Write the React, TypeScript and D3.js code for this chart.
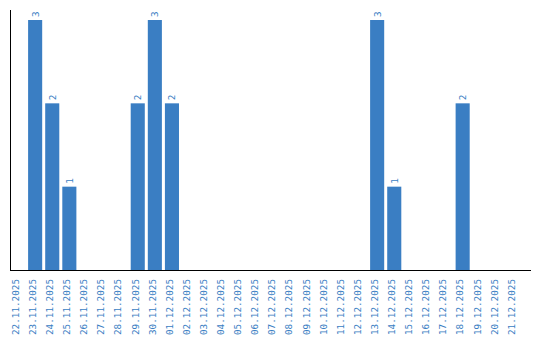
import React from "react";
import * as d3 from "d3";

const dates = [
  "22.11.2025","23.11.2025","24.11.2025","25.11.2025","26.11.2025","27.11.2025","28.11.2025",
  "29.11.2025","30.11.2025","01.12.2025","02.12.2025","03.12.2025","04.12.2025","05.12.2025",
  "06.12.2025","07.12.2025","08.12.2025","09.12.2025","10.12.2025","11.12.2025","12.12.2025",
  "13.12.2025","14.12.2025","15.12.2025","16.12.2025","17.12.2025","18.12.2025","19.12.2025",
  "20.12.2025","21.12.2025",
];
const counts = [0,3,2,1,0,0,0,2,3,2,0,0,0,0,0,0,0,0,0,0,0,3,1,0,0,0,2,0,0,0];

const W = 540, H = 340;
const left = 11, baseline = 270, top = 20;
const color = "#3a7ec3";

export default function App() {
  const x = d3.scaleBand<string>().domain(dates).range([left, left + 17 * dates.length]).paddingInner(3 / 17).paddingOuter(0).align(0);
  const y = d3.scaleLinear().domain([0, d3.max(counts) as number]).range([baseline, top]);
  const font = "'DejaVu Sans Mono', monospace";
  return (
    <svg width={W} height={H} style={{ position: "absolute", left: 0, top: 0 }}>
      {dates.map((d, i) => counts[i] > 0 ? (
        <g key={d}>
          <rect x={x(d)} y={y(counts[i])} width={x.bandwidth()} height={baseline - y(counts[i])} fill={color} />
          <text transform={`translate(${(x(d) as number) + x.bandwidth() / 2 + 3.5},${y(counts[i]) - 3}) rotate(-90)`}
            fontFamily={font} fontSize={9.3} fill={color}>{counts[i]}</text>
        </g>
      ) : null)}
      <line x1={10.5} x2={10.5} y1={10} y2={baseline} stroke="#000" strokeWidth={1} />
      <line x1={10} x2={531} y1={baseline + 0.5} y2={baseline + 0.5} stroke="#000" strokeWidth={1} />
      {dates.map((d) => (
        <text key={d} transform={`translate(${(x(d) as number) + x.bandwidth() / 2 + 0.8},${baseline + 9}) rotate(-90)`}
          textAnchor="end" fontFamily={font} fontSize={9.3} fill={color}>{d}</text>
      ))}
    </svg>
  );
}
